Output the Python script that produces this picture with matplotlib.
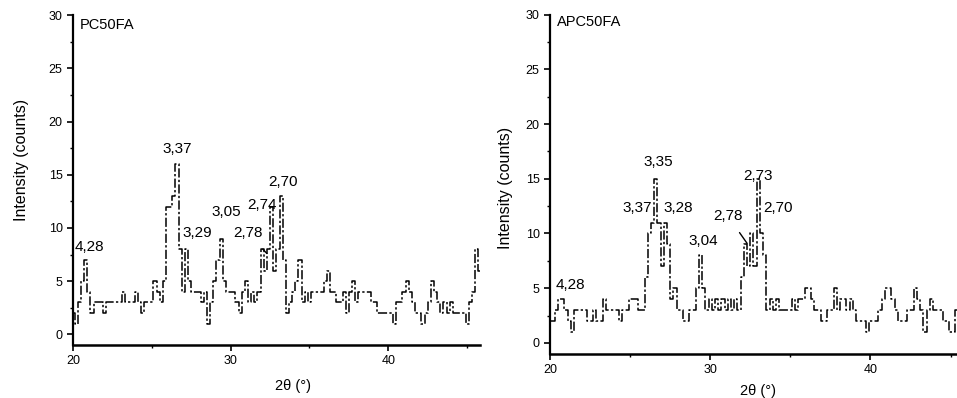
import numpy as np
import matplotlib
matplotlib.use("Agg")
import matplotlib.pyplot as plt
from matplotlib.ticker import MultipleLocator

plt.rcParams['font.family'] = ['Liberation Sans', 'DejaVu Sans']

# PC50FA, 2theta from 20.0 step 0.2
counts_pc = [2, 1, 3, 5, 7, 4, 2, 3, 3, 3, 2, 3, 3, 3, 3, 3, 4, 3, 3, 3,
             4, 3, 2, 3, 3, 3, 5, 4, 3, 5, 12, 12, 13, 16, 8, 4, 8, 5, 4, 4,
             4, 3, 4, 1, 3, 5, 7, 9, 5, 4, 4, 4, 3, 2, 4, 5, 3, 4, 3, 4,
             8, 6, 8, 12, 6, 8, 13, 7, 2, 3, 4, 5, 7, 3, 4, 3, 4, 4, 4, 4,
             5, 6, 4, 4, 3, 3, 4, 2, 4, 5, 3, 4, 4, 4, 4, 3, 3, 2, 2, 2,
             2, 2, 1, 3, 3, 4, 5, 4, 3, 2, 2, 1, 2, 3, 5, 4, 3, 2, 3, 2,
             3, 2, 2, 2, 2, 1, 3, 4, 8, 6]
theta_pc = np.round(20.0 + 0.2 * np.arange(len(counts_pc)), 1)

# APC50FA, 2theta from 20.0 step 0.2
counts_apc = [2, 2, 3, 4, 4, 3, 2, 1, 3, 3, 3, 3, 2, 2, 3, 2, 2, 4, 3, 3,
              3, 3, 2, 3, 3, 4, 4, 4, 3, 3, 6, 10, 11, 15, 11, 7, 11, 9, 4, 5,
              3, 3, 2, 2, 3, 3, 5, 8, 5, 3, 4, 3, 4, 3, 4, 3, 4, 3, 4, 3,
              6, 9, 7, 10, 7, 15, 10, 8, 3, 4, 3, 4, 3, 3, 3, 3, 4, 3, 4, 4,
              5, 5, 4, 3, 3, 2, 2, 3, 3, 5, 3, 4, 4, 3, 4, 3, 2, 2, 2, 1,
              2, 2, 2, 3, 4, 5, 5, 4, 3, 2, 2, 2, 3, 3, 5, 4, 3, 1, 3, 4,
              3, 3, 3, 2, 2, 1, 1, 3]
theta_apc = np.round(20.0 + 0.2 * np.arange(len(counts_apc)), 1)

# peak labels: (text, x, y, alignment)
labels_pc = [("4,28", 20.1, 8.2, "left"), ("3,37", 26.6, 17.4, "center"),
             ("3,29", 27.9, 9.5, "center"), ("3,05", 29.7, 11.5, "center"),
             ("2,74", 32.0, 12.2, "center"), ("2,70", 33.3, 14.3, "center")]
labels_apc = [("4,28", 20.35, 5.3, "left"), ("3,35", 26.75, 16.5, "center"),
              ("3,37", 26.35, 12.3, "right"), ("3,28", 27.1, 12.3, "left"),
              ("3,04", 29.55, 9.3, "center"), ("2,73", 33.0, 15.3, "center"),
              ("2,70", 33.3, 12.3, "left")]

fig = plt.figure(figsize=(9.57, 3.98), dpi=100)
ax1 = fig.add_axes([0.0763, 0.133, 0.425, 0.829])
ax2 = fig.add_axes([0.5747, 0.111, 0.4253, 0.852])


def style_axis(ax, xmax):
    ax.set_xlim(20, xmax)
    ax.set_ylim(-1, 30)
    for s in ["top", "right"]:
        ax.spines[s].set_visible(False)
    ax.spines["left"].set_linewidth(1.6)
    ax.spines["bottom"].set_linewidth(1.8)
    ax.xaxis.set_major_locator(MultipleLocator(10))
    ax.xaxis.set_minor_locator(MultipleLocator(5))
    ax.yaxis.set_major_locator(MultipleLocator(5))
    ax.yaxis.set_minor_locator(MultipleLocator(2.5))
    ax.tick_params(which="major", direction="out", length=4, width=1.2, labelsize=9)
    ax.tick_params(which="minor", direction="out", length=2, width=1)
    ax.set_ylabel("Intensity (counts)", fontsize=11.5)
    ax.set_xlabel("2θ (°)", fontsize=10.5)


ax1.plot(theta_pc, counts_pc, color="black", lw=1.1, drawstyle="steps-mid",
         dashes=(6, 1.5, 1.5, 1.5))
style_axis(ax1, 45.8)
ax1.text(20.4, 29.1, "PC50FA", fontsize=10.5, va="center", ha="left")
for t, x, y, ha in labels_pc:
    ax1.text(x, y, t, fontsize=11, ha=ha, va="center")
ax1.annotate("2,78", xy=(32.3, 7.6), xytext=(31.1, 9.5), fontsize=11,
             ha="center", va="center",
             arrowprops=dict(arrowstyle="-", color="black", lw=1.0, shrinkA=6, shrinkB=0))
ax1.yaxis.set_label_coords(-0.108, 0.56)
ax1.xaxis.set_label_coords(0.54, -0.103)

ax2.plot(theta_apc, counts_apc, color="black", lw=1.1, drawstyle="steps-mid",
         dashes=(6, 1.5, 1.5, 1.5))
style_axis(ax2, 45.4)
ax2.text(20.45, 29.3, "APC50FA", fontsize=10.5, va="center", ha="left")
for t, x, y, ha in labels_apc:
    ax2.text(x, y, t, fontsize=11, ha=ha, va="center")
ax2.annotate("2,78", xy=(32.3, 9.1), xytext=(31.1, 11.6), fontsize=11,
             ha="center", va="center",
             arrowprops=dict(arrowstyle="-", color="black", lw=1.0, shrinkA=6, shrinkB=0))
ax2.yaxis.set_label_coords(-0.091, 0.49)
ax2.xaxis.set_label_coords(0.51, -0.088)

fig.savefig("out.png", dpi=100)
